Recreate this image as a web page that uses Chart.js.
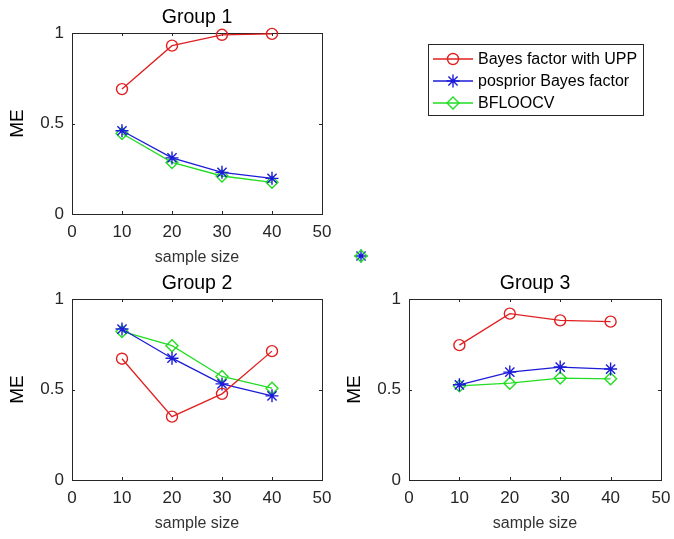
<!DOCTYPE html>
<html>
<head>
<meta charset="utf-8">
<script src="https://cdn.jsdelivr.net/npm/chart.js@4/dist/chart.umd.min.js"></script>
<style>
  html, body { margin: 0; padding: 0; background: #fff; }
  #wrap { position: relative; width: 674px; height: 539px; overflow: hidden; }
  canvas { position: absolute; }
</style>
</head>
<body>
<div id="wrap">
  <canvas id="g1" width="340" height="270" style="left:0;top:0"></canvas>
  <canvas id="g2" width="340" height="270" style="left:0;top:266px"></canvas>
  <canvas id="g3" width="342" height="270" style="left:337px;top:266px"></canvas>
  <canvas id="legend" width="240" height="90" style="left:420px;top:36px"></canvas>
  <canvas id="stray" width="20" height="20" style="left:351px;top:246px"></canvas>
</div>
<script>
// sample sizes on the x axis
const sampleSizes = [10, 20, 30, 40];
const xTicks = [0, 10, 20, 30, 40, 50];
const yTicks = [0, 0.5, 1];

const seriesNames = ['Bayes factor with UPP', 'posprior Bayes factor', 'BFLOOCV'];

// Group 1
const g1Upp = [0.69, 0.93, 0.99, 0.995];
const g1Pos = [0.46, 0.31, 0.23, 0.197];
const g1Bfl = [0.445, 0.285, 0.21, 0.175];

// Group 2
const g2Upp = [0.67, 0.35, 0.476, 0.712];
const g2Pos = [0.834, 0.673, 0.531, 0.465];
const g2Bfl = [0.821, 0.742, 0.572, 0.507];

// Group 3
const g3Upp = [0.745, 0.919, 0.882, 0.875];
const g3Pos = [0.526, 0.596, 0.624, 0.613];
const g3Bfl = [0.52, 0.535, 0.563, 0.559];

// stray legend marker left on the figure
const strayPoint = [{ x: 0, y: 0 }];

const FONT = '"Liberation Sans", Arial, Helvetica, sans-serif';
const AXIS = '#262626';
const RED = '#e02020';
const BLUE = '#1c1cd8';
const GREEN = '#22dd22';

const styles = [
    { color: RED, pointStyle: 'circle', radius: 5.5 },
    { color: BLUE, pointStyle: 'star', radius: 6.5 },
    { color: GREEN, pointStyle: 'rectRot', radius: 6 }
];

function toPoints(values) {
    return values.map((v, i) => ({ x: sampleSizes[i], y: v }));
}

function makeDataset(i, values) {
    const s = styles[i];
    return {
        label: seriesNames[i],
        data: values ? toPoints(values) : [],
        showLine: true,
        borderColor: s.color,
        backgroundColor: 'rgba(0,0,0,0)',
        borderWidth: 1.3,
        pointStyle: s.pointStyle,
        pointRadius: s.radius,
        pointBorderColor: s.color,
        pointBackgroundColor: 'rgba(0,0,0,0)',
        pointBorderWidth: 1.4,
        clip: false
    };
}

// box around the plot area, with inward ticks on all four sides
const framePlugin = {
    id: 'frame',
    beforeDatasetsDraw(chart) {
        const { ctx, chartArea: a, scales } = chart;
        const len = 3;
        ctx.save();
        ctx.strokeStyle = AXIS;
        ctx.lineWidth = 1;
        ctx.strokeRect(Math.round(a.left) + 0.5, Math.round(a.top) + 0.5,
            Math.round(a.width), Math.round(a.height));
        ctx.beginPath();
        scales.x.ticks.forEach(t => {
            const px = Math.round(scales.x.getPixelForValue(t.value)) + 0.5;
            ctx.moveTo(px, a.bottom); ctx.lineTo(px, a.bottom - len);
            ctx.moveTo(px, a.top); ctx.lineTo(px, a.top + len);
        });
        scales.y.ticks.forEach(t => {
            const py = Math.round(scales.y.getPixelForValue(t.value)) + 0.5;
            ctx.moveTo(a.left, py); ctx.lineTo(a.left + len, py);
            ctx.moveTo(a.right, py); ctx.lineTo(a.right - len, py);
        });
        ctx.stroke();
        ctx.restore();
    }
};

function makeGroupChart(canvasId, title, upp, pos, bfl) {
    const canvas = document.getElementById(canvasId);
    const plotRight = canvas.width - 18;
    return new Chart(canvas.getContext('2d'), {
        type: 'scatter',
        data: {
            datasets: [makeDataset(0, upp), makeDataset(1, pos), makeDataset(2, bfl)]
        },
        options: {
            responsive: false,
            animation: false,
            layout: { padding: { left: 0, right: canvas.width - plotRight, top: 0, bottom: 0 } },
            plugins: {
                legend: { display: false },
                tooltip: { enabled: false },
                title: {
                    display: true,
                    fullSize: false,
                    text: title,
                    color: '#000',
                    font: { family: FONT, size: 19.5, weight: 'normal' },
                    padding: { top: 6, bottom: 3.6 }
                }
            },
            scales: {
                x: {
                    type: 'linear',
                    min: 0,
                    max: 50,
                    afterBuildTicks: scale => { scale.ticks = xTicks.map(v => ({ value: v })); },
                    afterFit: scale => { scale.height = 56; },
                    grid: { display: false, drawTicks: false },
                    border: { display: false },
                    ticks: {
                        color: AXIS,
                        padding: 8,
                        maxRotation: 0,
                        font: { family: FONT, size: 17 }
                    },
                    title: {
                        display: true,
                        text: 'sample size',
                        color: '#333',
                        font: { family: FONT, size: 16 },
                        padding: { top: 0, bottom: 3 }
                    }
                },
                y: {
                    type: 'linear',
                    min: 0,
                    max: 1,
                    afterBuildTicks: scale => { scale.ticks = yTicks.map(v => ({ value: v })); },
                    afterFit: scale => { scale.width = 72; },
                    grid: { display: false, drawTicks: false },
                    border: { display: false },
                    ticks: {
                        color: AXIS,
                        padding: 8,
                        font: { family: FONT, size: 17 },
                        callback: v => String(v)
                    },
                    title: {
                        display: true,
                        text: 'ME',
                        color: '#000',
                        font: { family: FONT, size: 19 },
                        padding: { top: 6, bottom: 0 }
                    }
                }
            }
        },
        plugins: [framePlugin]
    });
}

makeGroupChart('g1', 'Group 1', g1Upp, g1Pos, g1Bfl);
makeGroupChart('g2', 'Group 2', g2Upp, g2Pos, g2Bfl);
makeGroupChart('g3', 'Group 3', g3Upp, g3Pos, g3Bfl);

// legend: line + marker + label, boxed
const legendPlugin = {
    id: 'boxLegend',
    afterDraw(chart) {
        const ctx = chart.ctx;
        const rowH = 22;
        ctx.save();
        ctx.strokeStyle = AXIS;
        ctx.lineWidth = 1;
        ctx.strokeRect(8.5, 8.5, 215, 71);
        chart.data.datasets.forEach((ds, i) => {
            const y = 23 + i * rowH;
            ctx.strokeStyle = ds.borderColor;
            ctx.lineWidth = ds.borderWidth;
            ctx.beginPath();
            ctx.moveTo(13, y);
            ctx.lineTo(53, y);
            ctx.stroke();
            ctx.fillStyle = 'rgba(0,0,0,0)';
            ctx.lineWidth = ds.pointBorderWidth;
            Chart.helpers.drawPoint(ctx, {
                pointStyle: ds.pointStyle,
                radius: ds.pointRadius,
                rotation: 0,
                borderWidth: ds.pointBorderWidth
            }, 33, y);
            ctx.fillStyle = '#000';
            ctx.font = '16px ' + FONT;
            ctx.textBaseline = 'middle';
            ctx.fillText(ds.label, 58, y + 1);
        });
        ctx.restore();
    }
};

new Chart(document.getElementById('legend').getContext('2d'), {
    type: 'scatter',
    data: { datasets: [makeDataset(0), makeDataset(1), makeDataset(2)] },
    options: {
        responsive: false,
        animation: false,
        plugins: { legend: { display: false }, tooltip: { enabled: false } },
        scales: { x: { display: false }, y: { display: false } }
    },
    plugins: [legendPlugin]
});

// small leftover marker between the panels
const strayGreen = makeDataset(2);
strayGreen.data = strayPoint;
const strayBlue = makeDataset(1);
strayBlue.data = strayPoint;
new Chart(document.getElementById('stray').getContext('2d'), {
    type: 'scatter',
    data: { datasets: [strayGreen, strayBlue] },
    options: {
        responsive: false,
        animation: false,
        layout: { padding: 0 },
        plugins: { legend: { display: false }, tooltip: { enabled: false } },
        scales: {
            x: { display: false, min: -1, max: 1 },
            y: { display: false, min: -1, max: 1 }
        }
    }
});
</script>
</body>
</html>
